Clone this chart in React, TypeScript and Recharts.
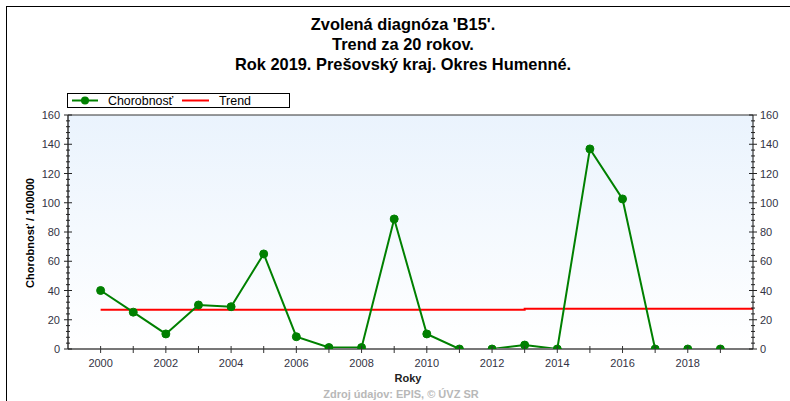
import React from "react";
import { LineChart, Line, XAxis, YAxis, CartesianGrid } from "recharts";

const years = [2000, 2001, 2002, 2003, 2004, 2005, 2006, 2007, 2008, 2009, 2010, 2011, 2012, 2013, 2014, 2015, 2016, 2017, 2018, 2019];
const chorobnost = [40, 25.2, 10.3, 30.1, 28.9, 65, 8.4, 1, 1, 88.9, 10.3, 0, 0, 2.7, 0, 136.8, 102.6, 0, 0, 0];
const trendYears = [2000, 2013, 2020];
const trendValues = [26.8, 27.5, 27.5];
const yTicks = Array.from({ length: 41 }, (_, i) => i * 4);
const xTicks = [2000, 2001, 2002, 2003, 2004, 2005, 2006, 2007, 2008, 2009, 2010, 2011, 2012, 2013, 2014, 2015, 2016, 2017, 2018, 2019, 2020];
const titleLines = ["Zvolená diagnóza 'B15'.", "Trend za 20 rokov.", "Rok 2019. Prešovský kraj. Okres Humenné."];
const seriesNames = ["Chorobnosť", "Trend"];

const data = years.map((y, i) => ({ year: y, value: chorobnost[i] }));
const trendData = trendYears.map((y, i) => ({ year: y, trend: trendValues[i] }));

const FONT = '"Liberation Sans", Arial, sans-serif';

const YTick = (props: any) => {
  const { x, y, payload, side } = props;
  const v = payload.value;
  const major = v % 20 === 0;
  const len = major ? 4 : 2;
  return (
    <g>
      <line x1={x - len} x2={x + len} y1={y} y2={y} stroke="#222" strokeWidth={1} />
      {major && (
        <text
          x={side === "left" ? x - 8 : x + 7}
          y={y + 4}
          textAnchor={side === "left" ? "end" : "start"}
          fontSize={11}
          fontFamily={FONT}
          fill="#333344"
        >
          {v}
        </text>
      )}
    </g>
  );
};

const XTick = (props: any) => {
  const { x, y, payload } = props;
  const v = payload.value;
  if (v > 2019) return <g />;
  return (
    <g>
      <line x1={x} x2={x} y1={y - 3} y2={y + 4} stroke="#333" strokeWidth={1} />
      {v % 2 === 0 && (
        <text x={x} y={y + 18} textAnchor="middle" fontSize={11} fontFamily={FONT} fill="#333344">
          {v}
        </text>
      )}
    </g>
  );
};

const TopTick = (props: any) => {
  const { x, y, payload } = props;
  if (payload.value > 2019) return <g />;
  return <line x1={x} x2={x} y1={y} y2={y + 3} stroke="#333" strokeWidth={1} />;
};

export default function App() {
  return (
    <div style={{ position: "absolute", left: 0, top: 0, width: 790, height: 401, background: "#fff", fontFamily: FONT }}>
      <LineChart width={790} height={401} data={data} margin={{ top: 115, right: 0, bottom: 0, left: 0 }}>
        <defs>
          <linearGradient id="bgGrad" x1="0" y1="0" x2="0" y2="1">
            <stop offset="0%" stopColor="#eaf3fd" />
            <stop offset="100%" stopColor="#ffffff" />
          </linearGradient>
        </defs>
        <CartesianGrid horizontal={false} vertical={false} fill="url(#bgGrad)" stroke="none" />
        <XAxis
          dataKey="year"
          type="number"
          domain={[1999, 2020]}
          ticks={xTicks}
          allowDataOverflow
          height={52}
          tickSize={0}
          tickMargin={0}
          tickLine={false}
          axisLine={{ stroke: "#777", strokeWidth: 2 }}
          tick={<XTick />}
          interval={0}
        />
        <XAxis
          xAxisId="top"
          orientation="top"
          mirror
          type="number"
          domain={[1999, 2020]}
          ticks={xTicks}
          allowDataOverflow
          tickSize={0}
          tickMargin={0}
          tickLine={false}
          axisLine={{ stroke: "#333", strokeWidth: 1 }}
          tick={<TopTick />}
          interval={0}
        />
        <YAxis
          yAxisId="left"
          orientation="left"
          width={68}
          domain={[0, 160]}
          ticks={yTicks}
          allowDataOverflow
          interval={0}
          tickSize={0}
          tickMargin={0}
          tickLine={false}
          axisLine={{ stroke: "#333", strokeWidth: 1.5 }}
          tick={<YTick side="left" />}
        />
        <YAxis
          yAxisId="right"
          orientation="right"
          width={37}
          domain={[0, 160]}
          ticks={yTicks}
          allowDataOverflow
          interval={0}
          tickSize={0}
          tickMargin={0}
          tickLine={false}
          axisLine={{ stroke: "#111", strokeWidth: 1 }}
          tick={<YTick side="right" />}
        />
        <Line
          yAxisId="left"
          data={trendData}
          dataKey="trend"
          name={seriesNames[1]}
          type="stepAfter"
          stroke="#ff0000"
          strokeWidth={2}
          dot={false}
          isAnimationActive={false}
        />
        <Line
          yAxisId="left"
          dataKey="value"
          name={seriesNames[0]}
          type="linear"
          stroke="#008000"
          strokeWidth={2}
          dot={{ r: 4, fill: "#008000", stroke: "#008000", strokeWidth: 1, clipDot: true }}
          isAnimationActive={false}
        />
      </LineChart>
      <svg width={790} height={401} style={{ position: "absolute", left: 0, top: 0, pointerEvents: "none" }}>
        <line x1={6.5} y1={6} x2={6.5} y2={401} stroke="#000" strokeWidth={1} />
        <line x1={6} y1={6.5} x2={790} y2={6.5} stroke="#000" strokeWidth={1} />
        {titleLines.map((t, i) => (
          <text key={i} x={403} y={30 + i * 20} textAnchor="middle" fontSize={16.4} fontWeight="bold" fontFamily={FONT} fill="#000">
            {t}
          </text>
        ))}
        <rect x={67.5} y={93.5} width={222} height={14} fill="#fff" stroke="#000" strokeWidth={1} />
        <line x1={72} x2={98} y1={100.5} y2={100.5} stroke="#008000" strokeWidth={2} />
        <circle cx={85} cy={100.5} r={4} fill="#008000" />
        <text x={108} y={105} fontSize={12.4} fontFamily={FONT} fill="#000">{seriesNames[0]}</text>
        <line x1={182} x2={209} y1={100.5} y2={100.5} stroke="#ff0000" strokeWidth={2} />
        <text x={219} y={105} fontSize={12.4} fontFamily={FONT} fill="#000">{seriesNames[1]}</text>
        <text
          x={0}
          y={0}
          transform="translate(34,233) rotate(-90)"
          textAnchor="middle"
          fontSize={11}
          fontWeight="bold"
          fontFamily={FONT}
          fill="#000"
        >
          Chorobnosť / 100000
        </text>
        <text x={408} y={382} textAnchor="middle" fontSize={11} fontWeight="bold" fontFamily={FONT} fill="#222">
          Roky
        </text>
        <text x={401} y={398} textAnchor="middle" fontSize={11} fontWeight="bold" fontFamily={FONT} fill="#b8b8b8">
          Zdroj údajov: EPIS, © ÚVZ SR
        </text>
      </svg>
    </div>
  );
}
